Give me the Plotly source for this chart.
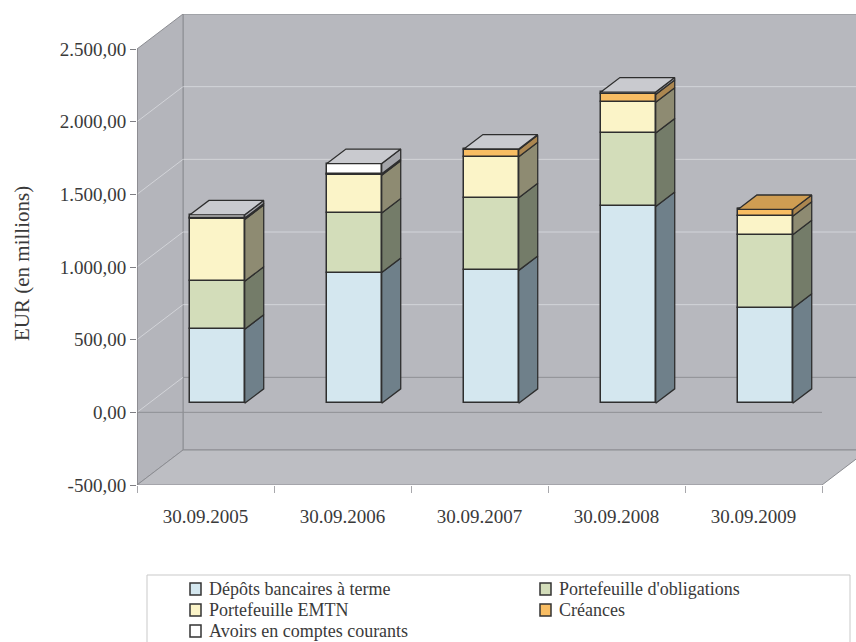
import plotly.graph_objects as go

# ---- data (EUR millions) -------------------------------------------------
dates = ["30.09.2005", "30.09.2006", "30.09.2007", "30.09.2008", "30.09.2009"]
series_names = [
    "Dépôts bancaires à terme",
    "Portefeuille d'obligations",
    "Portefeuille EMTN",
    "Créances",
    "Avoirs en comptes courants",
]
depots = [510, 900, 915, 1355, 655]
obligations = [330, 410, 500, 505, 505]
emtn = [425, 260, 282, 212, 128]
creances = [10, 10, 48, 54, 46]
avoirs = [22, 70, 5, 16, 0]
y_ticks = [-500, 0, 500, 1000, 1500, 2000, 2500]

stack = [depots, obligations, emtn, creances, avoirs]

# ---- styling ---------------------------------------------------------------
front_col = ["#d4e7ef", "#d3ddba", "#fbf4c8", "#f8bd63", "#ffffff"]
side_col = ["#6f808a", "#747c69", "#8e8b72", "#ab8650", "#a4a5aa"]
top_col = ["#aebfc6", "#b3bb9c", "#d8d2a8", "#cf9d52", "#c9cacf"]
edge = "#2e2e2e"
FONT = "Liberation Serif"
TXT = "#3a3a3a"

# ---- pseudo-3D geometry (in axis units) ----------------------------------
W_PX, H_PX = 856, 642
L_PX, T_PX, B_PX = 137, 14, 485          # plot area edges
CAT_PX = 137.0                            # pixels per category
Y_MIN, Y_MAX = -500, 2500
PX_PER_UNIT = (B_PX - 49) / (Y_MAX - Y_MIN)
DX = 46 / CAT_PX                          # full depth, horizontal
DY = 35 / PX_PER_UNIT                     # full depth, vertical
F0, F1 = 0.257, 0.67                      # bar front / back depth fraction
BW = 0.40                                 # bar width

x_lo = -0.5
x_hi = x_lo + (W_PX - L_PX) / CAT_PX
y_hi = Y_MAX + DY
n = len(dates)


def fmt(v):
    s = f"{abs(v):,.2f}".replace(",", " ").replace(".", ",").replace(" ", ".")
    return ("-" if v < 0 else "") + s


fig = go.Figure()

# side and top faces of each stacked block
bottoms = [0.0] * n
side_x = [[] for _ in stack]
side_y = [[] for _ in stack]
top_x = [[] for _ in stack]
top_y = [[] for _ in stack]
totals = [sum(s[i] for s in stack) for i in range(n)]
dxb, dyb = (F1 - F0) * DX, (F1 - F0) * DY
for k, vals in enumerate(stack):
    for i in range(n):
        v = vals[i]
        if v <= 0:
            continue
        b = bottoms[i] + F0 * DY
        t = bottoms[i] + v + F0 * DY
        xr = i + F0 * DX + BW / 2
        side_x[k] += [xr, xr + dxb, xr + dxb, xr, xr, None]
        side_y[k] += [b, b + dyb, t + dyb, t, b, None]
        bottoms[i] += v
        if abs(bottoms[i] - totals[i]) < 1e-9:
            xl = xr - BW
            top_x[k] += [xl, xr, xr + dxb, xl + dxb, xl, None]
            top_y[k] += [t, t, t + dyb, t + dyb, t, None]

for k in range(len(stack)):
    if side_x[k]:
        fig.add_trace(go.Scatter(x=side_x[k], y=side_y[k], mode="lines", fill="toself",
                                 fillcolor=side_col[k], line=dict(color=edge, width=1.3),
                                 hoverinfo="skip", showlegend=False))
    if top_x[k]:
        fig.add_trace(go.Scatter(x=top_x[k], y=top_y[k], mode="lines", fill="toself",
                                 fillcolor=top_col[k], line=dict(color=edge, width=1.3),
                                 hoverinfo="skip", showlegend=False))

# front faces as stacked bars
base = [0.0] * n
for k, vals in enumerate(stack):
    fig.add_trace(go.Bar(
        x=[i + F0 * DX for i in range(n)], y=vals,
        base=[b + F0 * DY for b in base], width=BW,
        marker=dict(color=front_col[k], line=dict(color=edge, width=1.5)),
        name=series_names[k], showlegend=False,
    ))
    base = [b + v for b, v in zip(base, vals)]

# ---- walls, floor and grid ----------------------------------------------
wall_line = "#8c8d92"
shapes = []


def path(pts):
    return "M " + " L ".join(f"{x:.5f},{y:.3f}" for x, y in pts) + " Z"


bx0, bx1 = x_lo + DX, 4.5 + DX
shapes.append(dict(type="path", layer="below", fillcolor="#b7b8be",
                   line=dict(color=wall_line, width=1),
                   path=path([(bx0, Y_MIN + DY), (bx1 + 1, Y_MIN + DY), (bx1 + 1, Y_MAX + DY), (bx0, Y_MAX + DY)])))
shapes.append(dict(type="path", layer="below", fillcolor="#b4b5bb",
                   line=dict(color=wall_line, width=1),
                   path=path([(x_lo, Y_MIN), (x_lo, Y_MAX), (bx0, Y_MAX + DY), (bx0, Y_MIN + DY)])))
shapes.append(dict(type="path", layer="below", fillcolor="#bdbec3",
                   line=dict(color=wall_line, width=1),
                   path=path([(x_lo, Y_MIN), (4.5, Y_MIN), (bx1, Y_MIN + DY), (bx0, Y_MIN + DY)])))

for v in y_ticks[1:-1]:
    light = "rgba(235,236,240,0.55)"
    shapes.append(dict(type="line", layer="below", x0=x_lo, y0=v, x1=bx0, y1=v + DY,
                       line=dict(color=light, width=1)))
    shapes.append(dict(type="line", layer="below", x0=bx0, y0=v + DY, x1=bx1 + 1, y1=v + DY,
                       line=dict(color=("#8f9095" if v == 0 else light), width=1)))
# zero line at the front plane
shapes.append(dict(type="line", layer="below", x0=x_lo, y0=0, x1=4.5, y1=0,
                   line=dict(color="#8f9095", width=1)))
# front value axis edge
shapes.append(dict(type="line", layer="below", x0=x_lo, y0=Y_MIN, x1=x_lo, y1=Y_MAX,
                   line=dict(color="#808085", width=1.2)))

# ---- legend box and entries ---------------------------------------------
def px_x(p):
    return (p - L_PX) / (W_PX - L_PX)


def px_y(p):
    return (B_PX - p) / (B_PX - T_PX)


shapes.append(dict(type="rect", xref="paper", yref="paper",
                   x0=px_x(147), x1=px_x(850), y0=px_y(575), y1=px_y(660),
                   line=dict(color="#c9c9c9", width=1), fillcolor="white", layer="below"))

annotations = []
legend_pos = [(190, 589), (540, 589), (190, 610), (540, 610), (190, 631)]
for k, (lx, ly) in enumerate(legend_pos):
    shapes.append(dict(type="rect", xref="paper", yref="paper",
                       x0=px_x(lx), x1=px_x(lx + 11), y0=px_y(ly - 6), y1=px_y(ly + 6),
                       fillcolor=front_col[k], line=dict(color="#333333", width=1.5)))
    annotations.append(dict(xref="paper", yref="paper", x=px_x(lx + 18), y=px_y(ly),
                            text=series_names[k], showarrow=False, xanchor="left", yanchor="middle",
                            borderpad=0, font=dict(family=FONT, size=18, color=TXT)))

annotations.append(dict(xref="paper", yref="paper", x=px_x(22), y=px_y(264),
                        text="EUR (en millions)", textangle=-90, showarrow=False,
                        xanchor="center", yanchor="middle",
                        font=dict(family=FONT, size=21, color=TXT)))

fig.update_layout(
    width=W_PX, height=H_PX,
    margin=dict(l=L_PX, r=0, t=T_PX, b=H_PX - B_PX, pad=0),
    paper_bgcolor="white", plot_bgcolor="white",
    barmode="overlay", bargap=0,
    shapes=shapes, annotations=annotations,
    showlegend=False,
    xaxis=dict(range=[x_lo, x_hi], tickmode="array", tickvals=list(range(n)), ticktext=dates,
               ticks="outside", ticklen=14, tickcolor="rgba(0,0,0,0)",
               showgrid=False, zeroline=False, showline=False, fixedrange=True,
               tickfont=dict(family=FONT, size=19, color=TXT),
               minor=dict(tickmode="array", tickvals=[i - 0.5 for i in range(n + 1)],
                          ticks="outside", ticklen=7, tickcolor="#a8a8ac", showgrid=False)),
    yaxis=dict(range=[Y_MIN, y_hi], tickmode="array", tickvals=y_ticks,
               ticktext=[fmt(v) for v in y_ticks],
               ticks="outside", ticklen=6, tickcolor="#7f7f84",
               showgrid=False, zeroline=False, showline=False, fixedrange=True,
               tickfont=dict(family=FONT, size=19, color=TXT)),
)

fig.write_html("out.html")
